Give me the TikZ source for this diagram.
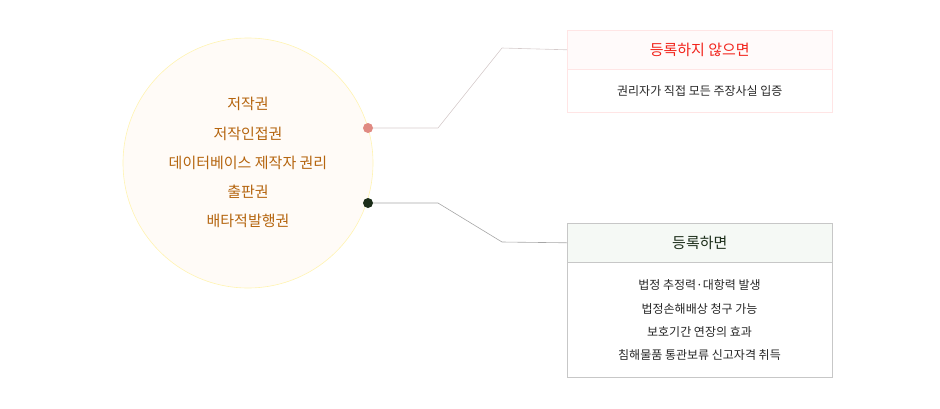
\documentclass[tikz,border=0pt]{standalone}
\usepackage{fontspec}
\setmainfont{Noto Sans CJK KR}
\definecolor{gold}{HTML}{B5650F}
\definecolor{redt}{HTML}{F2241C}
\definecolor{dgreen}{HTML}{1C2E1A}
\definecolor{pinkdot}{HTML}{E08A82}
\tikzset{
 box/.style={draw=#1,line width=0.6pt,anchor=north west,minimum width=265pt},
 lbl/.style={font=\fontsize{12}{14}\selectfont,text=black!85},
}
\begin{document}
\begin{tikzpicture}[x=1pt,y=-1pt]
\useasboundingbox (0,0) rectangle (940,408);
\node[circle,draw=orange!30!yellow!30,fill=orange!3,line width=0.6pt,minimum size=250pt,inner sep=0pt] (c) at (248,163) {};
\foreach \t/\y in {저작권/104,저작인접권/134,데이터베이스 제작자 권리/163,출판권/192,배타적발행권/221}
 \node[text=gold,font=\fontsize{15}{18}\selectfont] at (248,\y) {\t};
% top box
\node[box=red!10,fill=red!2,minimum height=39pt] (h1) at (567,30) {};
\node[box=red!10,minimum height=43pt] (b1) at (567,69) {};
\node[text=redt,font=\fontsize{15}{18}\selectfont] at (h1.center) {등록하지 않으면};
\node[lbl] at (b1.center) {권리자가 직접 모든 주장사실 입증};
% bottom box
\node[box=black!22,fill=green!40!black!4,minimum height=39pt] (h2) at (567,223) {};
\node[box=black!22,minimum height=115pt] (b2) at (567,262) {};
\node[text=dgreen,font=\fontsize{15}{18}\selectfont] at (h2.center) {등록하면};
\foreach \t/\y in {법정 추정력·대항력 발생/285,법정손해배상 청구 가능/309,보호기간 연장의 효과/332,침해물품 통관보류 신고자격 취득/355}
 \node[lbl] at (699.5,\y) {\t};
% connectors
\node[circle,fill=pinkdot,minimum size=10pt,inner sep=0pt] (d1) at (368,128) {};
\node[circle,fill=dgreen,minimum size=10pt,inner sep=0pt] (d2) at (368,203) {};
\coordinate (a1) at (438,128); \coordinate (e1) at (502,48);
\coordinate (a2) at (438,203); \coordinate (e2) at (502,242);
\draw[red!20!black!20,line width=0.6pt] (d1) -- (a1) -- (e1) -- (h1.west);
\draw[black!35,line width=0.6pt] (d2) -- (a2) -- (e2) -- (h2.west);
\end{tikzpicture}
\end{document}
